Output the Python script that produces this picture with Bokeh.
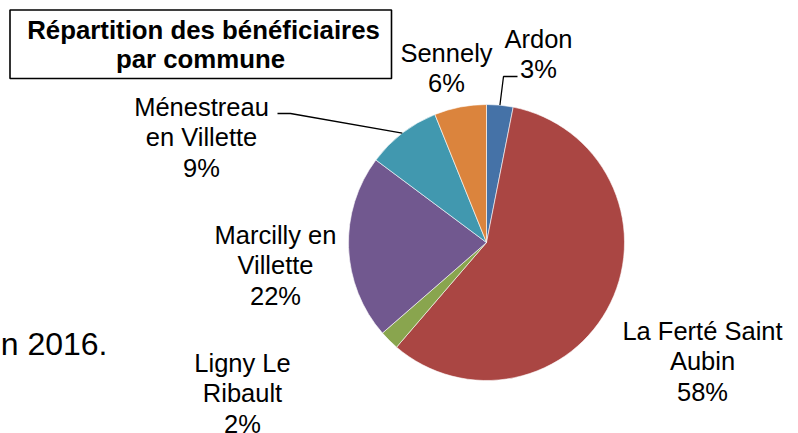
import numpy as np
from bokeh.plotting import figure
from bokeh.models import Range1d, ColumnDataSource
from bokeh.core.properties import value
from bokeh.embed import file_html
from bokeh.resources import INLINE

# ---- data ----
communes = ["Ardon", "La Ferté Saint Aubin", "Ligny Le Ribault",
            "Marcilly en Villette", "Ménestreau en Villette", "Sennely"]
shares = [3.1, 58.2, 2.3, 21.6, 8.7, 6.1]
colors = ["#4572A7", "#AA4643", "#89A54E", "#71588F", "#4198AF", "#DB843D"]
label_lines = [["Ardon"], ["La Ferté Saint", "Aubin"], ["Ligny Le", "Ribault"],
               ["Marcilly en", "Villette"], ["Ménestreau", "en Villette"], ["Sennely"]]
title_lines = ["Répartition des bénéficiaires", "par commune"]
side_text = "en 2016."

# ---- layout (screen pixel coordinates of the 798x433 page) ----
W, H = 798, 433
def Y(sy):
    return H - sy

# empirical correction of the text baseline offset (proportional to font size)
def TY(sy, size):
    return Y(sy - 0.31 * size)

cx, cy, R = 486, 242, 138
label_pos = [(538, 46), (702, 338), (242, 370), (275, 242), (201, 114), (446, 60)]
line_gap = 30.5
FONT = "Liberation Sans"
FSZ = 25.5

p = figure(width=W, height=H, x_range=Range1d(0, W), y_range=Range1d(0, H),
           output_backend="svg", toolbar_location=None, min_border=0)
p.axis.visible = False
p.grid.visible = False
p.outline_line_color = None
p.background_fill_color = "white"
p.border_fill_color = "white"

# pie
frac = np.array(shares) / sum(shares)
cum = np.concatenate([[0], np.cumsum(frac)])
start = np.pi / 2 - 2 * np.pi * cum[:-1]
end = np.pi / 2 - 2 * np.pi * cum[1:]
src = ColumnDataSource(dict(start=start, end=end, color=colors))
p.wedge(x=cx, y=Y(cy), radius=R, start_angle="start", end_angle="end",
        direction="clock", fill_color="color", line_color="white", line_width=0.6,
        source=src)

# leader lines (end on slice middle)
mid = (cum[:-1] + cum[1:]) / 2
def edge(i):
    a = 2 * np.pi * mid[i]
    return cx + R * np.sin(a), cy - R * np.cos(a)

ex, ey = edge(0)
p.line(x=[517, 503, ex], y=[Y(76), Y(76), Y(ey)], line_color="black", line_width=1.3)
ex, ey = edge(4)
p.line(x=[277, 290, ex], y=[Y(113), Y(113), Y(ey)], line_color="black", line_width=1.3)

# labels
tx, ty, tt = [], [], []
for i, lines in enumerate(label_lines):
    lx, ly = label_pos[i]
    allines = lines + [f"{round(frac[i] * 100)}%"]
    for k, t in enumerate(allines):
        tx.append(lx)
        ty.append(TY(ly + k * line_gap, FSZ))
        tt.append(t)
p.text(x=tx, y=ty, text=tt, text_font=value(FONT), text_font_size=value(f"{FSZ}px"),
       text_align="center", text_baseline="alphabetic", text_color="black")

# title box
TSZ = 25.8
p.quad(left=9.5, right=391, top=Y(9.5), bottom=Y(78), fill_color="white",
       line_color="black", line_width=1.6)
p.text(x=[203, 200], y=[TY(37.7, TSZ), TY(66.7, TSZ)], text=title_lines,
       text_font=value(FONT), text_font_size=value(f"{TSZ}px"), text_font_style="bold",
       text_align="center", text_baseline="alphabetic", text_color="black")

# background document text fragment
SSZ = 32
p.text(x=[107], y=[TY(353, SSZ)], text=[side_text], text_font=value(FONT),
       text_font_size=value(f"{SSZ}px"), text_align="right", text_baseline="alphabetic",
       text_color="black")

open("out.html", "w").write(file_html(p, INLINE))
